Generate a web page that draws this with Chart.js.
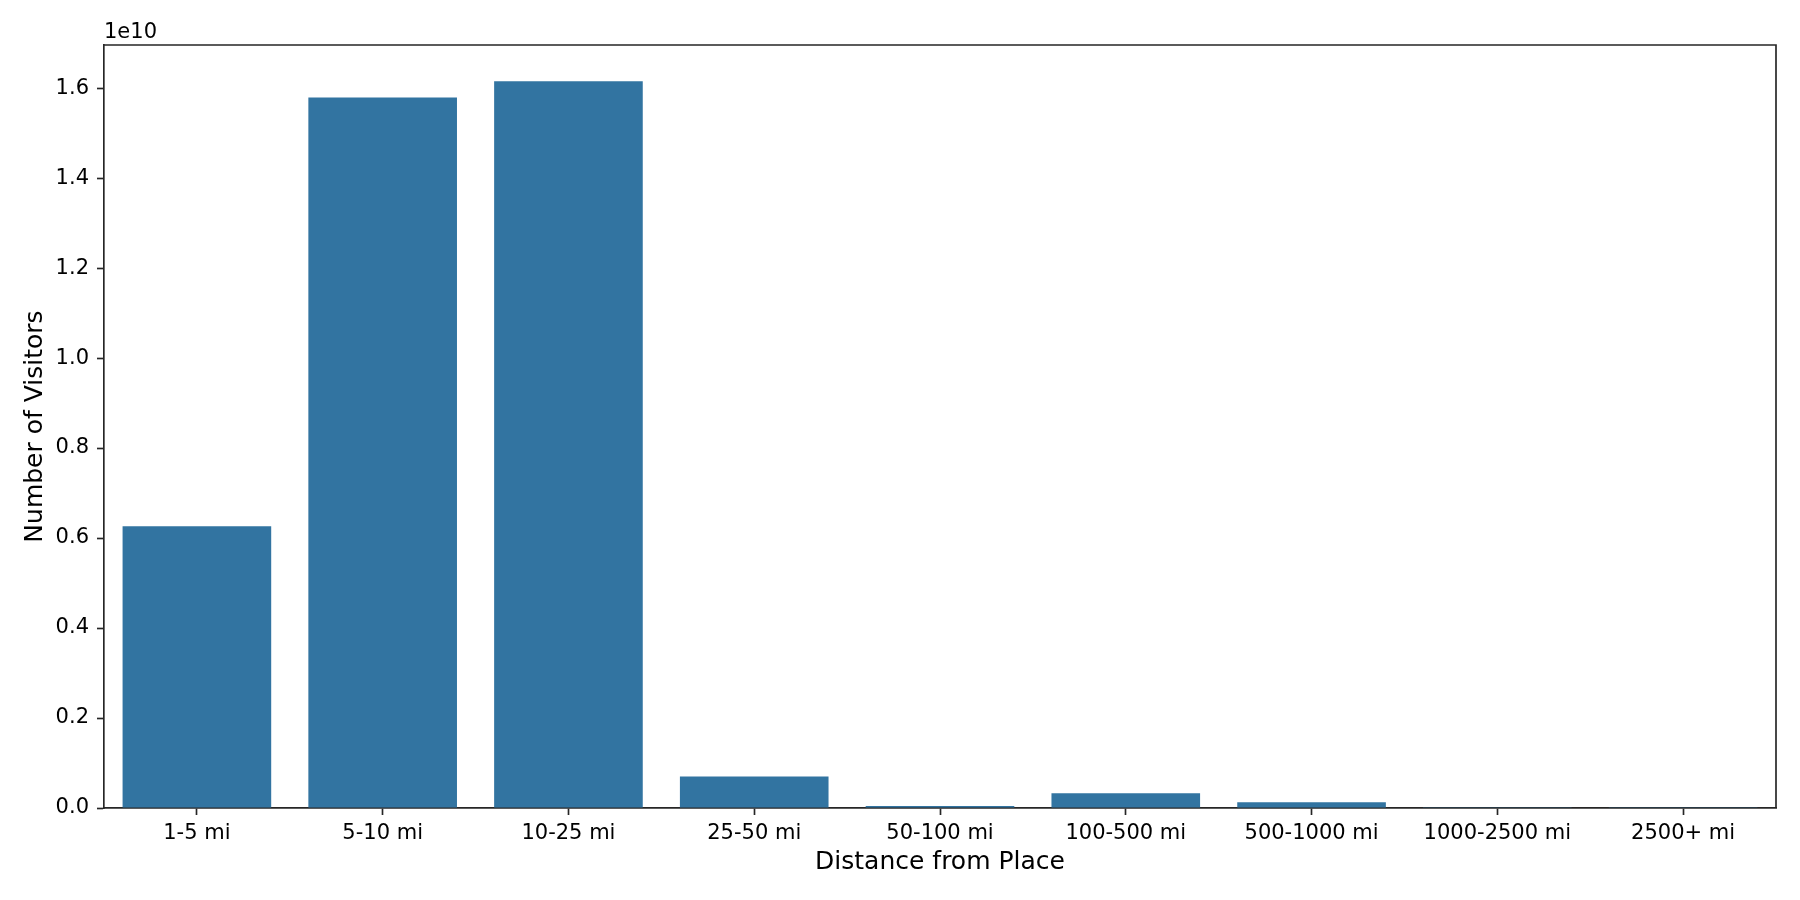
<!DOCTYPE html>
<html>
<head>
<meta charset="utf-8">
<style>
  html, body { margin: 0; padding: 0; background: #ffffff; }
  #wrap { width: 1800px; height: 900px; }
</style>
<script src="https://cdn.jsdelivr.net/npm/chart.js@4.4.1/dist/chart.umd.min.js"></script>
</head>
<body>
<div id="wrap"><canvas id="visitorsChart" width="1800" height="900"></canvas></div>
<script>
const distanceBins = ["1-5 mi", "5-10 mi", "10-25 mi", "25-50 mi", "50-100 mi", "100-500 mi", "500-1000 mi", "1000-2500 mi", "2500+ mi"];
const visitorCounts = [6.26e9, 1.579e10, 1.615e10, 7.0e8, 4.5e7, 3.3e8, 1.3e8, 1.5e7, 8e6];
const yTickValues = [0, 0.2e10, 0.4e10, 0.6e10, 0.8e10, 1.0e10, 1.2e10, 1.4e10, 1.6e10];
const offsetLabel = "1e10";

const barColor = "#3274a1";
const spineColor = "#262626";
const fontFamily = "'DejaVu Sans', sans-serif";

// matplotlib pads the y range by 5% above the tallest bar
const yMax = Math.max(...visitorCounts) * 1.05;

const framePlugin = {
  id: "frame",
  afterDraw(chart) {
    const { ctx, chartArea } = chart;
    ctx.save();
    ctx.strokeStyle = spineColor;
    ctx.lineWidth = 1.67;
    ctx.beginPath();
    ctx.moveTo(chartArea.left, chartArea.top);
    ctx.lineTo(chartArea.right, chartArea.top);
    ctx.lineTo(chartArea.right, chartArea.bottom);
    ctx.stroke();

    ctx.fillStyle = "#000000";
    ctx.font = "21px " + fontFamily;
    ctx.textAlign = "left";
    ctx.textBaseline = "alphabetic";
    ctx.fillText(offsetLabel, chartArea.left, chartArea.top - 7);
    ctx.restore();
  }
};

new Chart(document.getElementById("visitorsChart"), {
  type: "bar",
  data: {
    labels: distanceBins,
    datasets: [
      {
        label: "Visitors",
        data: visitorCounts,
        backgroundColor: barColor,
        borderWidth: 0,
        categoryPercentage: 0.8,
        barPercentage: 1.0
      }
    ]
  },
  options: {
    responsive: false,
    animation: false,
    devicePixelRatio: 1,
    layout: {
      padding: { top: 45, right: 24, left: 0, bottom: 0 }
    },
    plugins: {
      legend: { display: false },
      tooltip: { enabled: false }
    },
    scales: {
      x: {
        offset: true,
        grid: {
          drawOnChartArea: false,
          drawTicks: true,
          tickLength: 7,
          tickWidth: 1.67,
          color: spineColor,
          offset: false
        },
        border: { color: spineColor, width: 1.67 },
        ticks: {
          color: "#000000",
          padding: 6,
          maxRotation: 0,
          autoSkip: false,
          font: { family: fontFamily, size: 21 }
        },
        title: {
          display: true,
          text: "Distance from Place",
          color: "#000000",
          padding: { top: 0, bottom: 23 },
          font: { family: fontFamily, size: 25 }
        },
        afterFit: scale => { scale.height = 92; }
      },
      y: {
        min: 0,
        max: yMax,
        grid: {
          drawOnChartArea: false,
          drawTicks: true,
          tickLength: 7,
          tickWidth: 1.67,
          color: spineColor
        },
        border: { color: spineColor, width: 1.67 },
        afterBuildTicks: scale => {
          scale.ticks = yTickValues.map(value => ({ value }));
        },
        ticks: {
          color: "#000000",
          padding: 8,
          font: { family: fontFamily, size: 21 },
          callback: value => (value / 1e10).toFixed(1)
        },
        title: {
          display: true,
          text: "Number of Visitors",
          color: "#000000",
          padding: { top: 20, bottom: 0 },
          font: { family: fontFamily, size: 25 }
        },
        afterFit: scale => { scale.width = 104; }
      }
    }
  },
  plugins: [framePlugin]
});
</script>
</body>
</html>
